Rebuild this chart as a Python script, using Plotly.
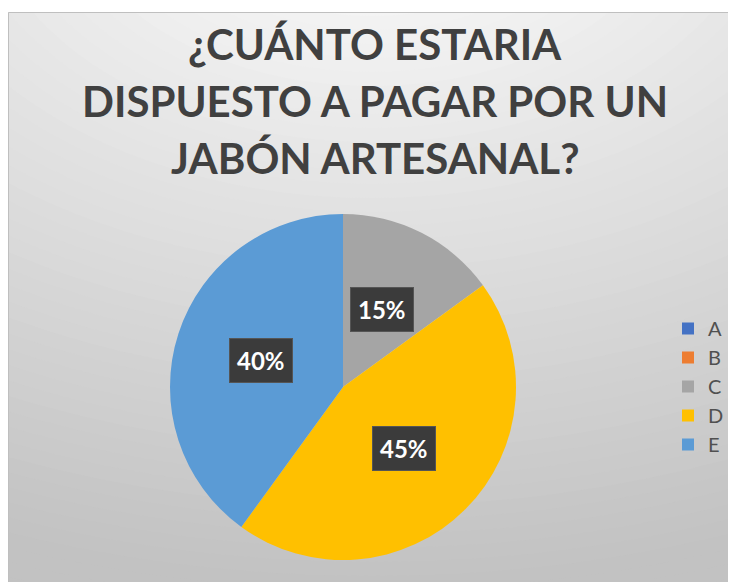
import math
import plotly.graph_objects as go

# ---- data ----
categories = ["A", "B", "C", "D", "E"]
values = [0, 0, 15, 45, 40]
colors = ["#4472C4", "#ED7D31", "#A5A5A5", "#FFC000", "#5B9BD5"]
title_lines = ["¿CUÁNTO ESTARIA", "DISPUESTO A PAGAR POR UN", "JABÓN ARTESANAL?"]

W, H = 736, 582
OFF = 8  # page body margin of the html page

def px(x):
    return (x - OFF) / W

def py(y):
    return 1 - (y - OFF) / H

# pie geometry (window pixels)
CX, CY, R = 343, 387, 173

fig = go.Figure()
fig.add_trace(go.Pie(
    labels=categories,
    values=values,
    marker=dict(colors=colors, line=dict(width=0)),
    sort=False,
    direction="clockwise",
    rotation=0,
    textinfo="none",
    hoverinfo="label+percent",
    domain=dict(x=[px(CX - R), px(CX + R)], y=[py(CY + R), py(CY - R)]),
    showlegend=True,
))

# ---- background: smooth banded radial gradient ----
shapes = []
gcx, gcy, ratio = 372, -120, 1.5
d_vals = list(range(780, 80, -14))
for d in d_vals:
    t = min(max((d - 132) / (702 - 132), 0), 1)
    v = int(round(244 - 50 * t))
    col = f"rgb({v},{v},{v})"
    shapes.append(dict(type="circle", xref="paper", yref="paper", layer="below",
                       x0=px(gcx - ratio * d), x1=px(gcx + ratio * d),
                       y0=py(gcy + d), y1=py(gcy - d),
                       fillcolor=col, line=dict(width=0)))
# white outside the chart frame (top strip)
shapes.append(dict(type="rect", xref="paper", yref="paper", layer="below",
                   x0=0, x1=1, y0=py(12), y1=1.0, fillcolor="white", line=dict(width=0)))
# frame border
shapes.append(dict(type="rect", xref="paper", yref="paper", layer="below",
                   x0=px(8.5), x1=px(W + 20), y0=py(H + 20), y1=py(12.5),
                   fillcolor="rgba(0,0,0,0)", line=dict(color="#bfbfbf", width=1)))

# ---- data labels in dark boxes ----
annotations = []
total = sum(values)
cum = 0
for cat, v in zip(categories, values):
    if v > 0:
        mid = (cum + v / 2) / total * 2 * math.pi
        lx = CX + 0.5 * R * math.sin(mid)
        ly = CY - 0.5 * R * math.cos(mid)
        annotations.append(dict(
            x=px(lx), y=py(ly), xref="paper", yref="paper", showarrow=False,
            text=f"<b>{round(v / total * 100)}%</b>",
            font=dict(family="Lato", size=24, color="white"),
            bgcolor="#3b3b3b", bordercolor="#555555", borderwidth=1,
            borderpad=7, xanchor="center", yanchor="middle"))
    cum += v

# title lines
title_centers = [44, 101, 158]
for line, yc in zip(title_lines, title_centers):
    annotations.append(dict(x=px(375), y=py(yc), xref="paper", yref="paper", showarrow=False,
                            text=f"<b>{line}</b>", xanchor="center", yanchor="middle",
                            font=dict(family="Lato", size=42, color="#404040")))

fig.update_layout(
    width=W, height=H,
    margin=dict(l=0, r=0, t=0, b=0, autoexpand=False),
    paper_bgcolor="white",
    plot_bgcolor="rgba(0,0,0,0)",
    legend=dict(x=px(668), xanchor="left", y=py(309), yanchor="top",
                font=dict(family="Lato", size=20, color="#505050"),
                bgcolor="rgba(0,0,0,0)", traceorder="normal", itemclick=False),
    shapes=shapes,
    annotations=annotations,
)

fig.write_html("out.html")
